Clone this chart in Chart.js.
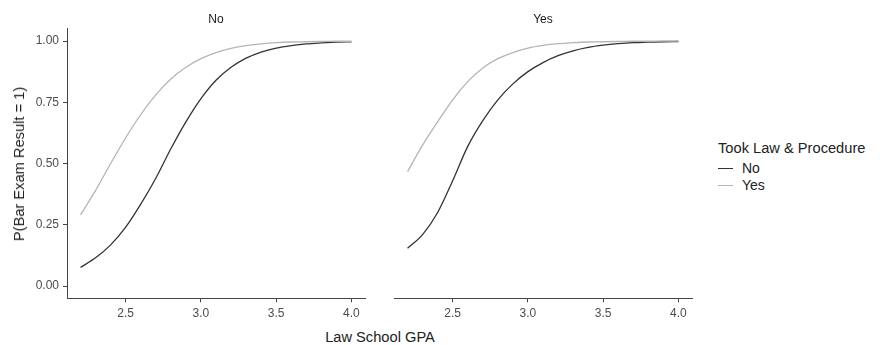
<!DOCTYPE html>
<html>
<head>
<meta charset="utf-8">
<script src="https://cdn.jsdelivr.net/npm/chart.js@4.4.1/dist/chart.umd.min.js"></script>
<style>
  html, body { margin: 0; padding: 0; background: #ffffff; }
  #wrap { position: relative; width: 880px; height: 345px; background: #ffffff; overflow: hidden;
          font-family: "Liberation Sans", Arial, sans-serif; }
  canvas { position: absolute; top: 0; }
  .txt { position: absolute; white-space: nowrap; }
  .strip { font-size: 12px; color: #1a1a1a; transform: translate(-50%, -50%); }
  .axtitle { font-size: 14.67px; color: #222; }
  .key { position: absolute; width: 15px; height: 0; }
</style>
</head>
<body>
<div id="wrap">
  <canvas id="c1" width="375" height="320" style="left:0px;width:375px;height:320px;"></canvas>
  <canvas id="c2" width="318" height="320" style="left:384px;width:318px;height:320px;"></canvas>

  <div class="txt strip" style="left:216px; top:19px;" id="strip1"></div>
  <div class="txt strip" style="left:543px; top:19px;" id="strip2"></div>

  <div class="txt axtitle" id="ytitle" style="left:19px; top:163.5px; transform: translate(-50%, -50%) rotate(-90deg);">P(Bar Exam Result = 1)</div>
  <div class="txt axtitle" id="xtitle" style="left:380px; top:337px; transform: translate(-50%, -50%);">Law School GPA</div>

  <div class="txt axtitle" id="legtitle" style="left:718px; top:138px; line-height:20px;"></div>
  <div id="legrows"></div>
</div>
<script>
// ---- data ----
const gpa = [2.2, 2.3, 2.4, 2.5, 2.6, 2.7, 2.8, 2.9, 3.0, 3.1, 3.2, 3.3, 3.4, 3.5, 3.6, 3.7, 3.8, 3.9, 4.0];

// Panel "No"
const panelNo_seriesNo  = [0.076, 0.115, 0.168, 0.240, 0.334, 0.440, 0.560, 0.670, 0.765, 0.840, 0.893, 0.930, 0.955, 0.971, 0.981, 0.988, 0.992, 0.995, 0.997];
const panelNo_seriesYes = [0.290, 0.390, 0.500, 0.605, 0.700, 0.780, 0.845, 0.893, 0.928, 0.953, 0.970, 0.981, 0.988, 0.993, 0.996, 0.997, 0.998, 0.999, 0.999];

// Panel "Yes"
const panelYes_seriesNo  = [0.154, 0.210, 0.300, 0.430, 0.570, 0.675, 0.760, 0.825, 0.875, 0.912, 0.940, 0.960, 0.974, 0.983, 0.989, 0.993, 0.995, 0.997, 0.998];
const panelYes_seriesYes = [0.467, 0.575, 0.670, 0.760, 0.834, 0.890, 0.928, 0.953, 0.971, 0.982, 0.989, 0.993, 0.996, 0.997, 0.998, 0.999, 0.999, 1.000, 1.000];

const panelLabels = ["No", "Yes"];
const seriesLabels = ["No", "Yes"];
const legendTitle = "Took Law & Procedure";
const xTickValues = [2.5, 3.0, 3.5, 4.0];
const yTickValues = [0, 0.25, 0.5, 0.75, 1.0];

// ---- styling ----
const seriesColors = ["#333333", "#b5b5b5"];
const axisColor = "#444444";
const tickFont = { family: "Liberation Sans", size: 12 };

document.getElementById("strip1").textContent = panelLabels[0];
document.getElementById("strip2").textContent = panelLabels[1];
document.getElementById("legtitle").textContent = legendTitle;

const legRows = document.getElementById("legrows");
seriesLabels.forEach((lab, i) => {
  const top = 168 + i * 17;
  const key = document.createElement("div");
  key.className = "key";
  key.style.left = "718px";
  key.style.top = (top - 0.5) + "px";
  key.style.borderTop = "1.4px solid " + seriesColors[i];
  legRows.appendChild(key);
  const t = document.createElement("div");
  t.className = "txt";
  t.style.left = "742px";
  t.style.top = (top - 8) + "px";
  t.style.fontSize = "14px";
  t.style.lineHeight = "16px";
  t.style.color = "#222";
  t.textContent = lab;
  legRows.appendChild(t);
});

function makeChart(id, seriesNoVals, seriesYesVals, showY) {
  const ctx = document.getElementById(id).getContext("2d");
  const mk = (vals, i) => ({
    label: seriesLabels[i],
    data: gpa.map((x, k) => ({ x: x, y: vals[k] })),
    borderColor: seriesColors[i],
    borderWidth: 1.3,
    pointRadius: 0,
    fill: false,
    cubicInterpolationMode: "monotone"
  });
  return new Chart(ctx, {
    type: "line",
    data: { datasets: [mk(seriesYesVals, 1), mk(seriesNoVals, 0)] },
    options: {
      responsive: false,
      animation: false,
      devicePixelRatio: 1,
      layout: { padding: { top: 28.75, left: showY ? 0 : 10, right: 10, bottom: 0 } },
      plugins: { legend: { display: false }, tooltip: { enabled: false }, title: { display: false } },
      scales: {
        x: {
          type: "linear",
          min: 2.11, max: 4.09,
          afterBuildTicks: s => { s.ticks = xTickValues.map(v => ({ value: v })); },
          afterFit: s => { s.height = 21.75; },
          ticks: { callback: v => Number(v).toFixed(1), font: tickFont, color: "#4d4d4d", padding: 4, maxRotation: 0, autoSkip: false },
          grid: { display: true, drawOnChartArea: false, drawTicks: true, tickLength: 4, color: axisColor, lineWidth: 1 },
          border: { display: true, color: axisColor, width: 1 }
        },
        y: {
          type: "linear",
          display: showY,
          min: -0.05, max: 1.05,
          afterBuildTicks: s => { s.ticks = yTickValues.map(v => ({ value: v })); },
          afterFit: s => { s.width = showY ? 67 : 0; },
          ticks: { callback: v => Number(v).toFixed(2), font: tickFont, color: "#4d4d4d", padding: 4, autoSkip: false },
          grid: { display: true, drawOnChartArea: false, drawTicks: true, tickLength: 4, color: axisColor, lineWidth: 1 },
          border: { display: true, color: axisColor, width: 1 }
        }
      }
    }
  });
}

makeChart("c1", panelNo_seriesNo, panelNo_seriesYes, true);
makeChart("c2", panelYes_seriesNo, panelYes_seriesYes, false);
</script>
</body>
</html>
